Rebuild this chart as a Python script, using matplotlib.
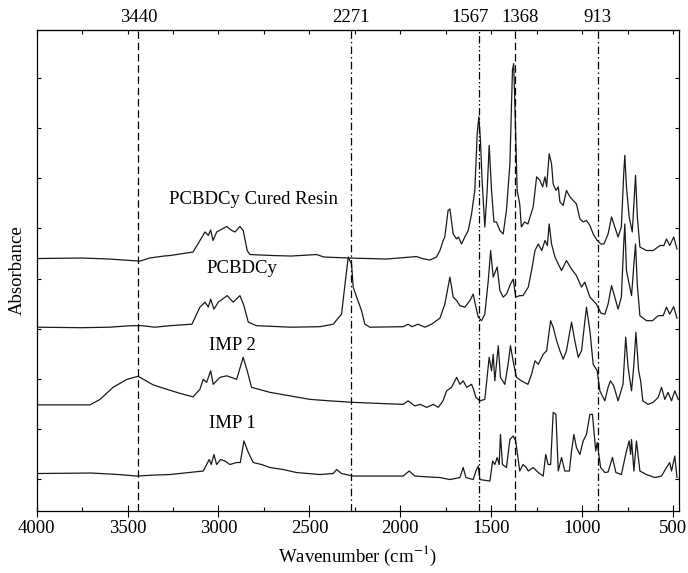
# FTIR spectra of IMP 1, IMP 2, PCBDCy and the cured resin (offset traces)
import numpy as np
import matplotlib
matplotlib.use("Agg")
import matplotlib.pyplot as plt
from matplotlib.ticker import MultipleLocator

plt.rcParams['font.family'] = ['Liberation Serif', 'DejaVu Serif']
plt.rcParams['mathtext.fontset'] = 'stix'

# ---- data (wavenumber cm-1, absorbance with offset) ----
cured_wn = [4000, 3750, 3600, 3480, 3430, 3380, 3300, 3267, 3140, 3102, 3074, 3056, 3043, 3030,
            3010, 2955, 2927, 2909, 2882, 2864, 2842, 2827, 2700, 2600, 2460, 2420, 2277, 2077,
            1910, 1880, 1837, 1801, 1782, 1764, 1755, 1737, 1727, 1709, 1690, 1680, 1663, 1645,
            1626, 1608, 1590, 1577, 1568, 1559, 1550, 1535, 1522, 1511, 1498, 1485, 1471, 1452,
            1434, 1416, 1397, 1383, 1376, 1366, 1357, 1343, 1334, 1316, 1298, 1269, 1250, 1232,
            1217, 1204, 1195, 1181, 1168, 1159, 1144, 1131, 1122, 1104, 1086, 1067, 1049, 1031,
            1012, 994, 976, 957, 939, 917, 896, 880, 866, 857, 838, 820, 802, 784, 771, 765, 756,
            741, 724, 715, 706, 696, 682, 646, 609, 572, 550, 536, 518, 496, 478]
cured_ab = [5.04, 5.05, 5.03, 5.00, 4.99, 5.05, 5.09, 5.10, 5.17, 5.40, 5.57, 5.50, 5.61, 5.40,
            5.57, 5.68, 5.60, 5.57, 5.68, 5.60, 5.20, 5.12, 5.10, 5.09, 5.12, 5.07, 5.05, 5.03,
            5.08, 5.04, 5.01, 5.07, 5.20, 5.40, 5.47, 6.00, 6.03, 5.53, 5.43, 5.47, 5.33, 5.47,
            5.60, 5.93, 6.40, 7.53, 7.87, 7.40, 6.60, 5.67, 6.40, 7.30, 6.40, 5.77, 5.77, 5.60,
            5.53, 6.00, 6.93, 8.80, 8.93, 7.60, 6.40, 6.13, 5.67, 5.77, 5.73, 6.07, 6.67, 6.60,
            6.47, 6.67, 6.47, 7.13, 6.93, 6.53, 6.40, 6.47, 6.17, 6.10, 6.40, 6.27, 6.20, 6.13,
            5.83, 5.77, 5.80, 5.70, 5.53, 5.40, 5.33, 5.33, 5.45, 5.53, 5.87, 5.67, 5.47, 5.67,
            6.73, 7.10, 6.47, 5.87, 5.57, 6.13, 6.70, 5.87, 5.27, 5.20, 5.20, 5.30, 5.30, 5.43,
            5.30, 5.47, 5.23]

pcbdcy_wn = [4000, 3750, 3600, 3480, 3420, 3350, 3267, 3146, 3102, 3074, 3056, 3043, 3025, 3001,
             2952, 2919, 2882, 2860, 2836, 2791, 2600, 2442, 2369, 2323, 2304, 2286, 2277, 2268,
             2259, 2240, 2213, 2195, 2167, 1984, 1957, 1935, 1903, 1864, 1828, 1782, 1755, 1727,
             1709, 1690, 1672, 1645, 1617, 1599, 1584, 1571, 1553, 1535, 1516, 1503, 1489, 1467,
             1452, 1434, 1416, 1394, 1379, 1365, 1343, 1325, 1296, 1278, 1259, 1241, 1222, 1204,
             1191, 1181, 1168, 1149, 1131, 1113, 1086, 1058, 1031, 1003, 985, 957, 921, 896, 875,
             857, 838, 820, 802, 784, 771, 765, 756, 728, 715, 706, 696, 682, 646, 613, 581, 554,
             536, 518, 496, 478]
pcbdcy_ab = [3.67, 3.66, 3.67, 3.70, 3.70, 3.67, 3.70, 3.73, 4.07, 4.17, 4.07, 4.23, 4.03, 4.17,
             4.30, 4.17, 4.30, 4.10, 3.77, 3.70, 3.67, 3.68, 3.73, 3.93, 4.53, 5.07, 5.00, 4.93,
             4.47, 4.27, 4.00, 3.73, 3.67, 3.68, 3.73, 3.68, 3.73, 3.67, 3.73, 3.85, 4.13, 4.67,
             4.27, 4.20, 4.10, 4.07, 4.20, 4.33, 4.07, 3.87, 3.80, 3.93, 4.60, 5.20, 4.67, 4.87,
             4.40, 4.27, 4.33, 4.53, 4.63, 4.27, 4.30, 4.30, 4.47, 4.80, 5.20, 5.33, 5.20, 5.40,
             5.30, 5.73, 5.33, 5.07, 4.93, 4.80, 5.00, 4.83, 4.70, 4.47, 4.57, 4.27, 4.13, 3.95, 3.93,
             4.13, 4.50, 4.27, 4.03, 4.27, 5.33, 5.73, 4.80, 4.30, 4.93, 5.33, 4.50, 3.90, 3.80,
             3.80, 3.90, 3.90, 4.07, 3.93, 4.08, 3.85]

imp2_wn = [4000, 3800, 3707, 3651, 3580, 3503, 3442, 3360, 3283, 3212, 3140, 3102, 3084, 3065,
           3043, 3029, 2992, 2955, 2900, 2864, 2842, 2818, 2717, 2607, 2497, 2387, 2259, 1984,
           1957, 1920, 1890, 1855, 1818, 1791, 1765, 1745, 1718, 1690, 1672, 1654, 1635, 1608,
           1597, 1584, 1562, 1535, 1511, 1498, 1489, 1480, 1461, 1449, 1425, 1407, 1394, 1376,
           1361, 1334, 1298, 1278, 1259, 1241, 1214, 1195, 1173, 1159, 1140, 1122, 1104, 1086,
           1058, 1040, 1021, 1003, 976, 957, 939, 917, 902, 875, 857, 844, 826, 802, 775, 760,
           747, 728, 715, 704, 689, 678, 666, 637, 609, 581, 563, 545, 527, 508, 490, 471]
imp2_ab = [2.12, 2.12, 2.12, 2.23, 2.47, 2.63, 2.69, 2.52, 2.43, 2.35, 2.28, 2.43, 2.63, 2.57,
           2.80, 2.53, 2.67, 2.70, 2.63, 3.07, 2.80, 2.47, 2.37, 2.30, 2.23, 2.20, 2.17, 2.13,
           2.20, 2.10, 2.13, 2.07, 2.13, 2.07, 2.20, 2.40, 2.47, 2.67, 2.53, 2.60, 2.47, 2.53,
           2.43, 2.27, 2.20, 2.23, 3.07, 2.80, 3.13, 2.60, 3.30, 2.67, 2.53, 2.93, 3.30, 2.93,
           2.67, 2.60, 2.53, 2.73, 3.00, 2.93, 3.13, 3.20, 3.80, 3.67, 3.40, 3.20, 3.03, 3.20,
           3.77, 3.40, 3.07, 3.20, 4.07, 3.60, 2.93, 2.80, 2.40, 2.20, 2.47, 2.60, 2.50, 2.20,
           2.53, 3.47, 2.87, 2.40, 2.93, 3.57, 2.80, 2.60, 2.20, 2.13, 2.17, 2.27, 2.47, 2.23,
           2.37, 2.20, 2.40, 2.23]

imp1_wn = [4000, 3700, 3550, 3450, 3350, 3267, 3084, 3051, 3040, 3025, 3010, 2988, 2965, 2937,
           2900, 2880, 2860, 2836, 2809, 2763, 2717, 2644, 2571, 2442, 2369, 2350, 2323, 2259,
           1984, 1951, 1920, 1837, 1782, 1727, 1672, 1654, 1639, 1599, 1584, 1571, 1562, 1507,
           1492, 1480, 1467, 1456, 1449, 1438, 1416, 1397, 1379, 1365, 1343, 1325, 1307, 1296,
           1269, 1241, 1214, 1200, 1187, 1173, 1159, 1144, 1131, 1113, 1095, 1070, 1058, 1045,
           1031, 1012, 994, 976, 957, 943, 925, 917, 898, 875, 857, 833, 814, 784, 756, 741, 733,
           728, 715, 701, 682, 646, 600, 563, 536, 518, 508, 490, 478]
imp1_ab = [0.75, 0.76, 0.73, 0.70, 0.72, 0.73, 0.80, 1.03, 0.93, 1.13, 0.93, 1.03, 1.00, 0.93,
           0.97, 0.97, 1.40, 1.17, 0.97, 0.93, 0.87, 0.83, 0.77, 0.73, 0.75, 0.83, 0.75, 0.70,
           0.70, 0.80, 0.70, 0.68, 0.67, 0.63, 0.67, 0.87, 0.67, 0.63, 0.80, 0.90, 0.63, 0.60,
           1.00, 0.93, 1.07, 0.93, 1.53, 0.93, 0.87, 1.43, 1.50, 1.40, 0.80, 0.93, 0.87, 0.80,
           0.87, 0.77, 0.70, 1.13, 0.93, 0.93, 1.97, 1.93, 0.80, 1.07, 0.80, 0.80, 1.20, 1.53,
           1.27, 1.13, 1.40, 1.53, 1.93, 1.93, 1.20, 1.37, 0.87, 0.77, 0.78, 1.07, 0.77, 0.73,
           1.20, 1.40, 1.13, 1.43, 0.80, 1.40, 0.80, 0.73, 0.67, 0.70, 0.87, 0.97, 0.80, 1.10,
           0.67]

# marked bands (the two close labels are nudged apart, as in the figure)
band_wn = [3440, 2271, 1567, 1368, 913]
band_lbl = ['3440', '2271', '1567', '1368', '913']
band_lbl_wn = [3440, 2271, 1617, 1342, 913]
band_dash = [(0, (6, 3)), (0, (6, 2.5, 1.2, 2.5)), (0, (6, 2, 1.2, 2, 1.2, 2)),
             (0, (6, 3)), (0, (6, 2.5, 1.2, 2.5))]

# trace names and where they sit
names = ['PCBDCy Cured Resin', 'PCBDCy', 'IMP 2', 'IMP 1']
name_wn = [2810, 2871, 2926, 2926]
name_y = [6.22, 4.84, 3.30, 1.74]

fs = 13.5

fig = plt.figure(figsize=(6.88, 5.73), dpi=100)
ax = fig.add_axes([0.0533, 0.108, 0.9336, 0.8396])

lc = '#1a1a1a'
for wn, ab in [(cured_wn, cured_ab), (pcbdcy_wn, pcbdcy_ab), (imp2_wn, imp2_ab), (imp1_wn, imp1_ab)]:
    ax.plot(wn, ab, color=lc, lw=0.9)

for w, lw_, lbl, ds in zip(band_wn, band_lbl_wn, band_lbl, band_dash):
    ax.axvline(w, color='k', lw=0.9, linestyle=ds)
    ax.text(lw_, 1.025, lbl, transform=ax.get_xaxis_transform(), ha='center', va='center',
            fontsize=fs)

for nm, w, y in zip(names, name_wn, name_y):
    ax.text(w, y, nm, ha='center', va='center', fontsize=fs)

ax.set_xlim(4000, 467)
ax.set_ylim(0, 9.6)
ax.xaxis.set_major_locator(MultipleLocator(500))
ax.xaxis.set_minor_locator(MultipleLocator(250))
ax.set_yticks(np.arange(0.64, 9.0, 1.0))
ax.set_yticklabels([])

ax.tick_params(axis='x', which='major', direction='inout', length=9, width=0.8,
               top=False, labelsize=fs, pad=2)
ax.tick_params(axis='x', which='minor', direction='in', length=3, width=0.8, top=False)
ax.tick_params(axis='y', direction='in', length=3, width=0.8, left=True, right=True)

# short inward ticks on the top spine every 250
top = ax.secondary_xaxis('top')
top.xaxis.set_major_locator(MultipleLocator(250))
top.tick_params(direction='in', length=3, width=0.8, labeltop=False)
top.set_xticklabels([])

for s in ax.spines.values():
    s.set_linewidth(0.9)

ax.set_xlabel(r'Wavenumber (cm$^{-1}$)', fontsize=fs, labelpad=5)
ax.set_ylabel('Absorbance', fontsize=fs, labelpad=4)

plt.savefig('out.png', dpi=100)
